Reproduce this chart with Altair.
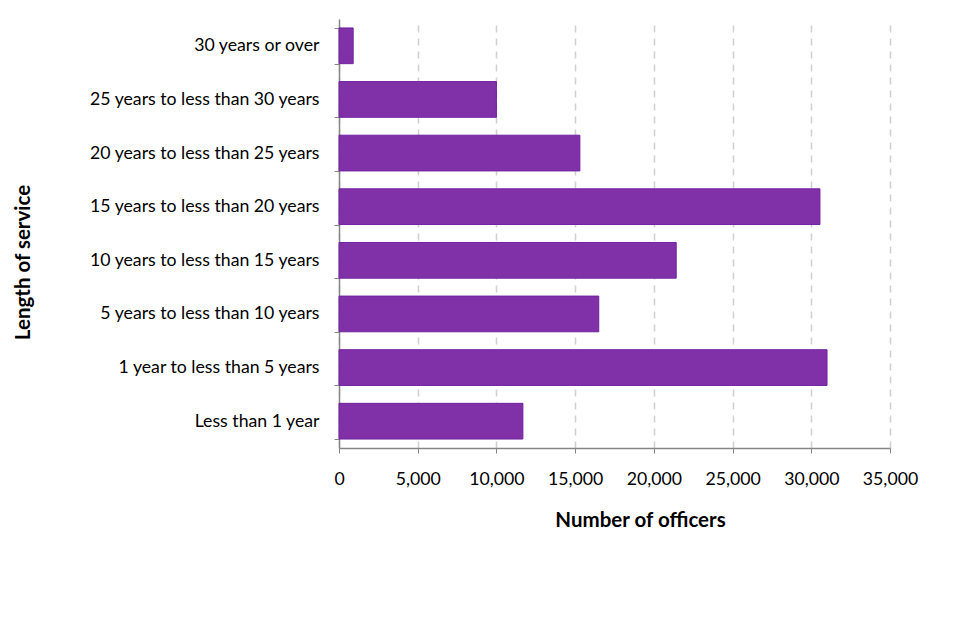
import altair as alt
import pandas as pd

categories = [
    "30 years or over",
    "25 years to less than 30 years",
    "20 years to less than 25 years",
    "15 years to less than 20 years",
    "10 years to less than 15 years",
    "5 years to less than 10 years",
    "1 year to less than 5 years",
    "Less than 1 year",
]
officers = [900, 10000, 15300, 30550, 21420, 16500, 31000, 11680]
x_ticks = [0, 5000, 10000, 15000, 20000, 25000, 30000, 35000]

df = pd.DataFrame({"service": categories, "officers": officers})

FONT = "Lato"

chart = (
    alt.Chart(df)
    .mark_bar(color="#8031A7", stroke="#7020A0", strokeWidth=1)
    .encode(
        y=alt.Y(
            "service:N",
            sort=categories,
            title="Length of service",
            scale=alt.Scale(paddingInner=0.334, paddingOuter=0.167),
            axis=alt.Axis(
                tickBand="extent",
                tickSize=5,
                tickColor="#868686",
                domainColor="#868686",
                domainWidth=1.5,
                labelPadding=15,
                labelFontSize=17.7,
                labelColor="#000000",
                labelFont=FONT,
                labelOverlap=False,
                titleFont=FONT,
                titleFontSize=20.5,
                titleFontWeight="bold",
                titleColor="#000000",
                titleX=-306,
                titleY=243,
                titleBaseline="bottom",
                labelLimit=400,
            ),
        ),
        x=alt.X(
            "officers:Q",
            title="Number of officers",
            scale=alt.Scale(domain=[0, 35000], nice=False),
            axis=alt.Axis(
                values=x_ticks,
                format=",.0f",
                grid=True,
                gridDash=[7, 6],
                gridColor="#D0D0D0",
                gridWidth=1.5,
                tickSize=5,
                tickColor="#868686",
                domainColor="#868686",
                domainWidth=1.5,
                labelPadding=17,
                labelFontSize=17.7,
                labelColor="#000000",
                labelFont=FONT,
                labelOverlap=False,
                labelFlush=False,
                titleFont=FONT,
                titleFontSize=20.5,
                titleFontWeight="bold",
                titleColor="#000000",
                titleX=301,
                titleY=62,
                titleBaseline="top",
            ),
        ),
    )
    .properties(
        width=551,
        height=429,
        autosize=alt.AutoSizeParams(type="none"),
        padding={"left": 331, "top": 11, "right": 62, "bottom": 184},
    )
    .configure_view(stroke=None)
)

chart.save("out.html", embed_options={"renderer": "svg", "actions": False})
